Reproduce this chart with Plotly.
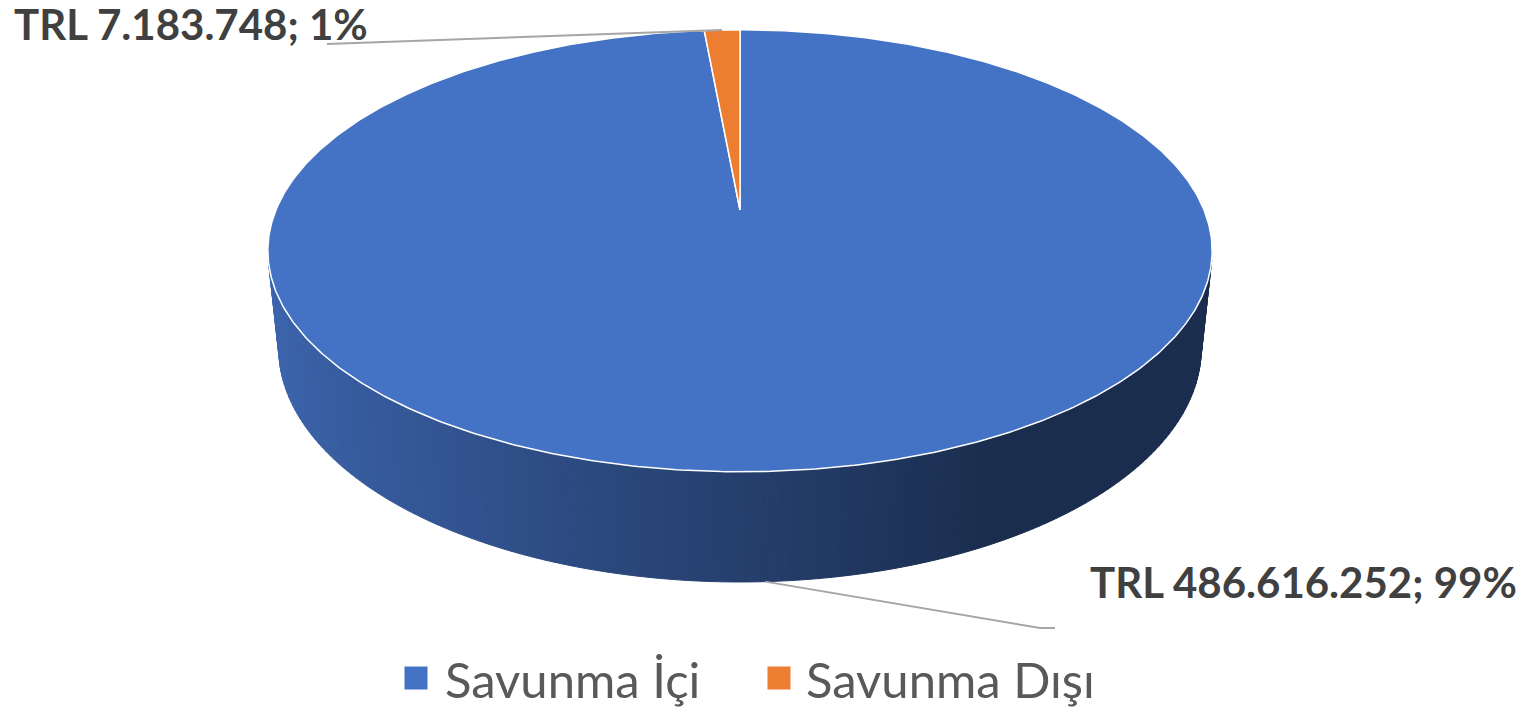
import numpy as np
import plotly.graph_objects as go

# ---- data -------------------------------------------------------------
categories = ["Savunma İçi", "Savunma Dışı"]
values = [486616252, 7183748]
slice_colors = ["#4472C4", "#ED7D31"]
currency = "TRL"

# ---- page / projection setup (axes are in page pixels) ----------------
W, H = 1531, 709
CX, CY = 740.0, 210.0          # projected pie centre
FOCAL = 2232.0
DIST = 4.81
TILT = np.arcsin(0.46)
THICK = 0.2387                 # pie height (radius = 1)
SN, CS = np.sin(TILT), np.cos(TILT)


def project(X, Y, Z):
    depth = DIST - (Y * SN + Z * CS)
    sx = CX + FOCAL * X / depth
    sy = CY - FOCAL * (Y * CS - Z * SN) / depth
    return sx, sy


def rim(theta, level):
    """Point on the pie rim; theta clockwise from 12 o'clock."""
    return project(np.sin(theta), level, -np.cos(theta))


def shade(hex_color, k):
    h = hex_color.lstrip("#")
    r, g, b = (int(h[i:i + 2], 16) for i in (0, 2, 4))
    return "rgb({},{},{})".format(int(r * k), int(g * k), int(b * k))


def fmt_tr(v):
    return "{:,}".format(v).replace(",", ".")


total = float(sum(values))
fractions = [v / total for v in values]
starts = np.concatenate([[0.0], np.cumsum(fractions)[:-1]]) * 2 * np.pi
ends = np.cumsum(fractions) * 2 * np.pi

fig = go.Figure()

# ---- side wall: thin strips shaded by their facing direction ----------
strips = []
for col, a0, a1 in zip(slice_colors, starts, ends):
    n = max(2, int(np.ceil(np.degrees(a1 - a0))))
    edges = np.linspace(a0, a1, n + 1)
    for ta, tb in zip(edges[:-1], edges[1:]):
        tm = 0.5 * (ta + tb)
        if -np.cos(tm) * DIST * CS - 1 <= -0.02:
            continue  # faces away from the viewer
        k = 0.89 - 0.49 * (np.sin(tm) + 0.975) / 1.441
        k = float(np.clip(k, 0.40, 0.92))
        xa, ya = rim(ta, 0.0)
        xb, yb = rim(tb, 0.0)
        xc, yc = rim(tb, -THICK)
        xd, yd = rim(ta, -THICK)
        depth = DIST + np.cos(tm) * CS
        strips.append((depth, [xa, xb, xc, xd, xa], [ya, yb, yc, yd, ya], shade(col, k)))

strips.sort(key=lambda s: -s[0])
for _, xs, ys, c in strips:
    fig.add_trace(go.Scatter(x=xs, y=ys, mode="lines", fill="toself",
                             fillcolor=c, line=dict(color=c, width=1),
                             hoverinfo="skip", showlegend=False))

# ---- top face slices ---------------------------------------------------
cx0, cy0 = project(0.0, 0.0, 0.0)
for name, col, a0, a1 in zip(categories, slice_colors, starts, ends):
    t = np.linspace(a0, a1, max(3, int(np.degrees(a1 - a0) * 2)))
    ax_, ay_ = rim(t, 0.0)
    xs = np.concatenate([[cx0], ax_, [cx0]])
    ys = np.concatenate([[cy0], ay_, [cy0]])
    fig.add_trace(go.Scatter(x=xs, y=ys, mode="lines", fill="toself",
                             fillcolor=col, line=dict(color="white", width=1.5),
                             name=name, hoverinfo="skip", showlegend=False))

# ---- data labels with leader lines ------------------------------------
label_font = dict(family="Lato, sans-serif", size=42, color="#404040")
label_specs = [
    # (text anchor x, y, xanchor, leader knee points)
    (1519, 582, "right", [(1040, 628), (1055, 628)]),
    (12, 24, "left", [(327, 44)]),
]
for v, f, a0, a1, spec in zip(values, fractions, starts, ends, label_specs):
    tx, ty, xanc, knees = spec
    mid = 0.5 * (a0 + a1)
    level = 0.0 if np.cos(mid) > 0 else -THICK
    px, py = rim(mid, level)
    lx = [px] + [k[0] for k in knees]
    ly = [py] + [k[1] for k in knees]
    fig.add_trace(go.Scatter(x=lx, y=ly, mode="lines",
                             line=dict(color="#A6A6A6", width=2),
                             hoverinfo="skip", showlegend=False))
    text = "<b>{} {}; {:.0f}%</b>".format(currency, fmt_tr(v), f * 100)
    fig.add_annotation(x=tx, y=ty, text=text, showarrow=False,
                       xanchor=xanc, yanchor="middle", font=label_font)

# ---- legend ------------------------------------------------------------
legend_font = dict(family="Lato, sans-serif", size=49, color="#595959")
legend_pos = [(416, 443), (779, 804)]
for name, col, (mx, tx) in zip(categories, slice_colors, legend_pos):
    fig.add_trace(go.Scatter(x=[mx], y=[678], mode="markers",
                             marker=dict(symbol="square", size=23, color=col,
                                         line=dict(width=0)),
                             hoverinfo="skip", showlegend=False))
    fig.add_annotation(x=tx, y=679, text=name, showarrow=False,
                       xanchor="left", yanchor="middle", font=legend_font)

fig.update_layout(
    width=W, height=H,
    margin=dict(l=0, r=0, t=0, b=0),
    paper_bgcolor="white", plot_bgcolor="white",
    xaxis=dict(range=[0, W], visible=False, fixedrange=True),
    yaxis=dict(range=[H, 0], visible=False, fixedrange=True),
)

fig.write_html("out.html", config={"displayModeBar": False})
